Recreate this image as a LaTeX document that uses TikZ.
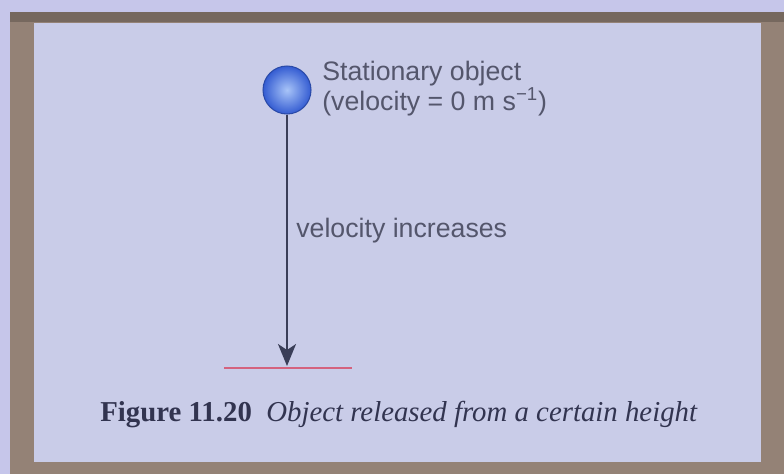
\documentclass[tikz,border=0pt]{standalone}
\usepackage{fontspec}
\setmainfont{Liberation Serif}
\setsansfont{Liberation Sans}
\usetikzlibrary{positioning,arrows.meta}
\definecolor{pagebg}{RGB}{198,198,234}
\definecolor{panelbg}{RGB}{201,204,232}
\definecolor{framec}{RGB}{148,130,118}
\definecolor{ink}{RGB}{84,86,108}
\definecolor{capink}{RGB}{50,52,80}
\definecolor{arrowc}{RGB}{58,62,88}
\definecolor{ballin}{RGB}{168,196,248}
\definecolor{ballout}{RGB}{52,92,210}
\definecolor{groundc}{RGB}{212,98,126}

\begin{document}
\begin{tikzpicture}[x=0.02cm, y=-0.02cm,
  lbl/.style={font=\sffamily\fontsize{15.2}{18}\selectfont, text=ink, inner sep=0pt, anchor=base west},
  captxt/.style={font=\fontsize{16.4}{19}\selectfont, text=capink, inner sep=0pt, anchor=base},
  arr/.style={-{Stealth[length=4.4mm, width=3.6mm, inset=1.2mm]}, line width=1.4pt, draw=arrowc}]
\useasboundingbox (0,0) rectangle (784,474);
% page, frame and panel
\fill[pagebg] (0,0) rectangle (784,474);
\fill[framec] (10,12) rectangle (784,474);
\fill[framec!80!black] (10,12) rectangle (784,22);
\fill[panelbg] (34,23) rectangle (761,462);
% ball and fall
\node[circle, minimum size=9.6mm, inner sep=0pt, shade, inner color=ballin, outer color=ballout, draw=ballout!80!black, line width=0.6pt] (ball) at (287,90) {};
\coordinate (tip) at (287,366);
\coordinate (gl) at (224,368);
\coordinate (gr) at (352,368);
\draw[groundc, line width=1.1pt] (gl) -- (gr);
\draw[arr] (ball.south) -- (tip);
\node[lbl] (obj) at (322,80) {Stationary object};
\node[lbl] (vel) at (322,110) {(velocity = 0 m s\textsuperscript{−1})};
\node[lbl] (inc) at (296,237) {velocity increases};
\node[captxt] (fig) at (399,421) {\textbf{Figure 11.20}\hspace{0.5em}\textit{Object released from a certain height}};
\end{tikzpicture}
\end{document}
